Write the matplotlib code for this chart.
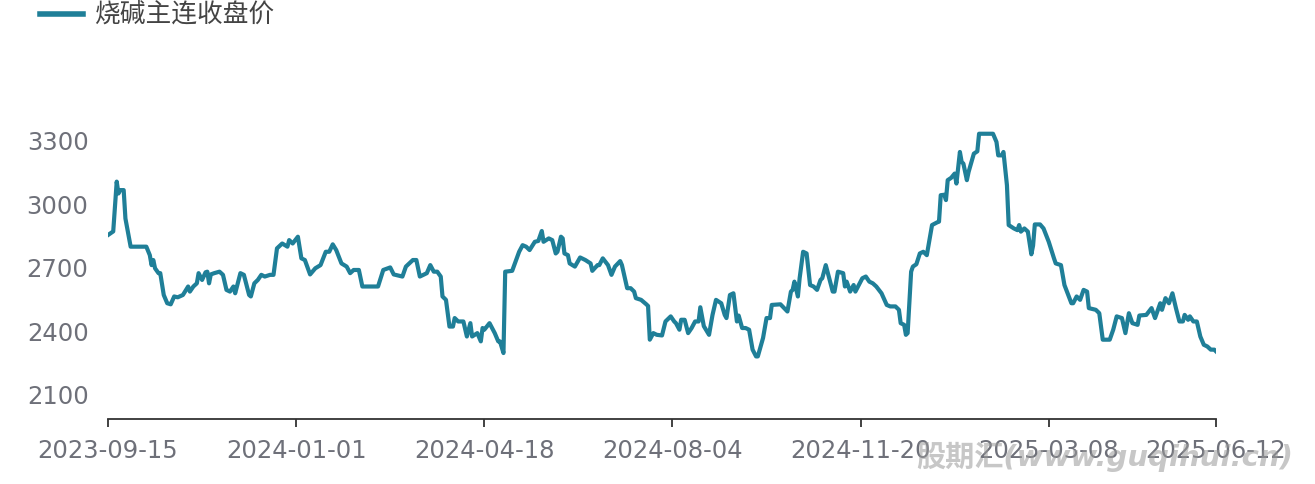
import matplotlib
matplotlib.use("Agg")
import matplotlib.pyplot as plt
import matplotlib.dates as mdates
from matplotlib.lines import Line2D
import pandas as pd

plt.rcParams['font.family'] = ['DejaVu Sans', 'Noto Sans CJK SC']

# 烧碱主连收盘价 (days since 2023-09-15, price)
start = "2023-09-15"
day_offsets = [
    0, 3, 5, 6, 7, 9, 10, 13, 22, 24, 25, 26, 27, 29, 30, 32, 34, 36, 38, 40,
    43, 46, 47, 49, 51, 52, 54, 56, 57, 58, 59, 61, 64, 66, 68, 70, 72, 73, 76, 78,
    81, 82, 84, 86, 88, 90, 93, 95, 97, 100, 103, 104, 106, 109, 111, 113, 116, 119, 122, 125,
    127, 129, 131, 134, 137, 139, 141, 144, 146, 155, 158, 162, 164, 169, 171, 175, 177, 179, 183, 185,
    187, 189, 191, 192, 194, 196, 198, 199, 201, 204, 206, 208, 209, 212, 214, 215, 216, 219, 222, 224,
    225, 227, 228, 232, 236, 238, 240, 242, 245, 247, 249, 250, 253, 255, 257, 258, 260, 261, 262, 264,
    265, 268, 271, 274, 277, 278, 281, 282, 284, 287, 289, 291, 294, 295, 298, 300, 302, 303, 306, 309,
    310, 311, 313, 315, 318, 320, 323, 325, 326, 328, 329, 331, 333, 335, 337, 339, 340, 342, 345, 347,
    349, 352, 354, 355, 357, 359, 361, 362, 364, 366, 368, 370, 372, 373, 376, 378, 380, 381, 386, 390,
    392, 393, 394, 396, 397, 399, 401, 403, 405, 407, 409, 410, 412, 413, 416, 417, 419, 422, 423, 424,
    426, 428, 429, 431, 433, 435, 437, 439, 441, 444, 447, 449, 452, 454, 455, 457, 458, 459, 461, 462,
    464, 466, 468, 470, 473, 476, 477, 478, 480, 481, 482, 484, 486, 487, 489, 490, 491, 493, 494, 497,
    499, 500, 508, 510, 511, 513, 514, 516, 517, 520, 522, 523, 524, 526, 528, 530, 531, 532, 535, 537,
    540, 543, 544, 547, 549, 553, 554, 556, 558, 560, 562, 563, 567, 569, 571, 575, 577, 579, 582, 584,
    586, 588, 591, 592, 596, 599, 601, 604, 605, 607, 609, 611, 613, 615, 617, 618, 620, 621, 623, 625,
    627, 629, 631, 633, 635, 636,
]
prices = [
    2850, 2867, 3102, 3046, 3062, 3062, 2928, 2795, 2795, 2755, 2708, 2732, 2693, 2670, 2670, 2567, 2528, 2523, 2560, 2556,
    2567, 2607, 2583, 2607, 2622, 2670, 2638, 2674, 2677, 2622, 2664, 2670, 2677, 2662, 2591, 2583, 2607, 2575, 2670, 2662,
    2567, 2560, 2622, 2638, 2662, 2654, 2662, 2662, 2787, 2810, 2795, 2826, 2810, 2842, 2740, 2732, 2664, 2693, 2708, 2771,
    2771, 2806, 2779, 2716, 2701, 2670, 2685, 2685, 2607, 2607, 2685, 2697, 2664, 2654, 2701, 2732, 2732, 2654, 2670, 2708,
    2677, 2677, 2654, 2560, 2544, 2418, 2418, 2458, 2442, 2442, 2371, 2434, 2371, 2387, 2348, 2411, 2403, 2434, 2387, 2348,
    2348, 2293, 2677, 2681, 2771, 2802, 2795, 2779, 2818, 2822, 2869, 2818, 2834, 2826, 2763, 2771, 2842, 2834, 2763, 2755,
    2716, 2701, 2744, 2732, 2716, 2681, 2708, 2708, 2740, 2708, 2662, 2701, 2727, 2708, 2599, 2599, 2583, 2552, 2544, 2523,
    2515, 2356, 2387, 2379, 2376, 2442, 2466, 2442, 2434, 2403, 2450, 2450, 2387, 2411, 2442, 2442, 2509, 2420, 2379, 2473,
    2544, 2528, 2473, 2458, 2567, 2575, 2442, 2470, 2411, 2411, 2403, 2309, 2277, 2277, 2364, 2458, 2458, 2520, 2523, 2489,
    2583, 2591, 2630, 2560, 2646, 2771, 2763, 2614, 2607, 2591, 2638, 2646, 2708, 2677, 2583, 2583, 2677, 2670, 2607, 2630,
    2583, 2614, 2583, 2614, 2646, 2654, 2630, 2622, 2607, 2575, 2520, 2513, 2513, 2497, 2434, 2426, 2379, 2387, 2677, 2701,
    2712, 2763, 2771, 2755, 2897, 2910, 2913, 3038, 3040, 3015, 3109, 3120, 3140, 3093, 3242, 3195, 3187, 3109, 3148, 3234,
    3245, 3328, 3328, 3289, 3226, 3226, 3242, 3085, 2897, 2881, 2873, 2897, 2866, 2881, 2866, 2759, 2800, 2900, 2900, 2881,
    2818, 2740, 2716, 2708, 2614, 2528, 2528, 2560, 2544, 2591, 2583, 2505, 2497, 2481, 2356, 2356, 2403, 2466, 2458, 2387,
    2481, 2434, 2426, 2470, 2473, 2505, 2458, 2528, 2497, 2552, 2528, 2575, 2505, 2442, 2442, 2473, 2450, 2466, 2442, 2442,
    2371, 2332, 2324, 2309, 2309, 2301,
]
x_ticks = ["2023-09-15", "2024-01-01", "2024-04-18", "2024-08-04",
           "2024-11-20", "2025-03-08", "2025-06-12"]
y_ticks = [2100, 2400, 2700, 3000, 3300]
series_name = "烧碱主连收盘价"

line_color = "#1f7f98"
label_color = "#6e7079"

dates = pd.Timestamp(start) + pd.to_timedelta(day_offsets, unit="D")

W, H = 1315, 485
fig = plt.figure(figsize=(W / 100, H / 100), dpi=100)
ax = fig.add_axes([108 / W, (H - 419.5) / H, (1216 - 108) / W, 319.5 / H])

ax.plot(dates, prices, color=line_color, lw=3.0, solid_joinstyle="round")

ax.set_xlim(pd.Timestamp(x_ticks[0]), pd.Timestamp(x_ticks[-1]))
ax.set_ylim(1984, 3492)
ax.set_xticks([pd.Timestamp(t) for t in x_ticks])
ax.xaxis.set_major_formatter(mdates.DateFormatter("%Y-%m-%d"))
ax.set_yticks(y_ticks)

for s in ["top", "right", "left"]:
    ax.spines[s].set_visible(False)
ax.spines["bottom"].set_color("#333333")
ax.spines["bottom"].set_linewidth(1.3)
ax.tick_params(axis="x", colors="#333333", length=6, width=1.3, pad=8,
               labelsize=17.5, labelcolor=label_color)
ax.tick_params(axis="y", length=0, pad=14, labelsize=17.5, labelcolor=label_color)

# legend
fig.add_artist(Line2D([40 / W, 83 / W], [1 - 15 / H, 1 - 15 / H],
                      color=line_color, lw=4, transform=fig.transFigure))
fig.text(94 / W, 1 - 15 / H, series_name, fontsize=18.5, color="#444444",
         va="center", ha="left", family=["Noto Sans CJK SC", "DejaVu Sans"])

# watermark
fig.text(916 / W, 1 - 457 / H, "股期汇(www.guqihui.cn)", fontsize=21,
         fontweight="bold", style="italic", color="#999999", alpha=0.55,
         va="center", ha="left", family=["DejaVu Sans", "Noto Sans CJK SC"])

fig.savefig("out.png", dpi=100)
